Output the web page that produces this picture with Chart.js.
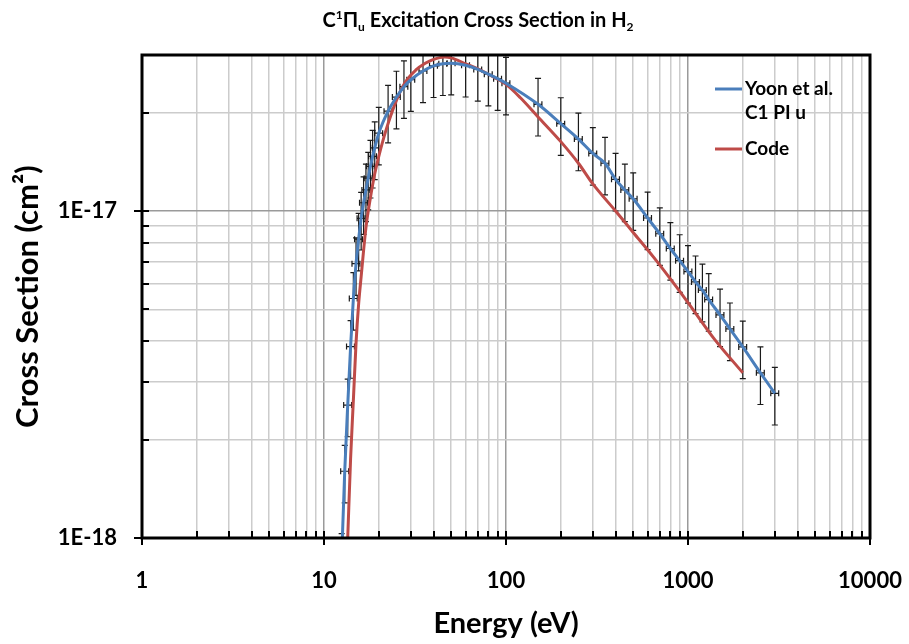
<!DOCTYPE html>
<html>
<head>
<meta charset="utf-8">
<title>C1Pi_u Excitation Cross Section in H2</title>
<script src="https://cdn.jsdelivr.net/npm/chart.js@4.4.1/dist/chart.umd.min.js"></script>
<style>
  html, body { margin: 0; padding: 0; background: #fff; }
</style>
</head>
<body>
<canvas id="xsChart" width="909" height="644"></canvas>
<script>
// Yoon et al. recommended cross section (energy in eV, sigma in cm^2)
const yoonEnergy = [12.5, 13, 13.5, 14, 14.5, 15, 15.5, 16, 16.5, 17, 17.5, 18, 18.5, 19, 20,
  22.5, 25, 27.5, 30, 35, 40, 45, 50, 60, 70, 80, 90, 100, 150, 200, 250, 300, 350, 400,
  450, 500, 600, 700, 800, 900, 1000, 1100, 1200, 1300, 1500, 1700, 2000, 2500, 3000];
const yoonSigma = [0.86e-18, 1.6e-18, 2.55e-18, 3.85e-18, 5.4e-18, 6.9e-18, 8.2e-18, 9.5e-18,
  1.06e-17, 1.16e-17, 1.26e-17, 1.37e-17, 1.47e-17, 1.56e-17, 1.73e-17,
  2.02e-17, 2.23e-17, 2.40e-17, 2.52e-17, 2.68e-17, 2.78e-17, 2.82e-17, 2.83e-17, 2.79e-17,
  2.71e-17, 2.62e-17, 2.54e-17, 2.46e-17, 2.12e-17, 1.85e-17, 1.66e-17, 1.50e-17, 1.40e-17,
  1.25e-17, 1.16e-17, 1.09e-17, 9.52e-18, 8.52e-18, 7.68e-18, 7.05e-18, 6.53e-18, 6.07e-18,
  5.73e-18, 5.36e-18, 4.81e-18, 4.36e-18, 3.84e-18, 3.20e-18, 2.77e-18];
// error bars: +/-20% in sigma, +/-5% in energy
const yoonErrY = 0.2;
const yoonErrX = 0.05;

// model ("Code") curve
const codeEnergy = [13.3, 13.5, 14, 14.5, 15, 15.5, 16, 17, 18, 19, 20, 22, 25, 28, 32, 36, 40,
  46, 50, 60, 70, 80, 100, 120, 150, 200, 250, 300, 400, 500, 650, 800, 1000, 1400, 2000];
const codeSigma = [0.80e-18, 1.0e-18, 1.75e-18, 2.64e-18, 3.95e-18, 5.2e-18, 6.3e-18, 8.9e-18,
  1.10e-17, 1.30e-17, 1.47e-17, 1.78e-17, 2.18e-17, 2.48e-17, 2.70e-17, 2.83e-17, 2.91e-17,
  2.96e-17, 2.94e-17, 2.82e-17, 2.72e-17, 2.62e-17, 2.44e-17, 2.22e-17, 1.94e-17, 1.63e-17,
  1.40e-17, 1.21e-17, 1.00e-17, 8.6e-18, 7.2e-18, 6.2e-18, 5.25e-18, 4.05e-18, 3.2e-18];

const xMajor = [1, 10, 100, 1000, 10000];
const xLabels = ['1', '10', '100', '1000', '10000'];
const yMajor = [1e-18, 1e-17];
const yLabels = ['1E-18', '1E-17'];
const minorSteps = [2, 3, 4, 5, 6, 7, 8, 9];
const yMin = 1e-18, yMax = 3e-17;

const BLUE = '#4A7EBB';
const RED = '#BE4B48';
const FONT = 'Lato';

function logTicks(majors, max) {
  const out = [];
  majors.forEach(m => {
    out.push({ value: m, major: true });
    minorSteps.forEach(k => { if (m * k <= max * 1.0001) out.push({ value: m * k, major: false }); });
  });
  return out.filter(t => t.value <= max * 1.0001);
}

function labelFor(v, majors, labels) {
  const i = majors.findIndex(m => Math.abs(Math.log10(v / m)) < 1e-6);
  return i < 0 ? '' : labels[i];
}

const errorBars = {
  id: 'errorBars',
  beforeDatasetsDraw(chart) {
    const { ctx, chartArea: a, scales: { x, y } } = chart;
    ctx.save();
    ctx.beginPath();
    ctx.rect(a.left, a.top, a.right - a.left, a.bottom - a.top);
    ctx.clip();
    ctx.strokeStyle = '#1a1a1a';
    ctx.lineWidth = 1.2;
    yoonEnergy.forEach((e, i) => {
      const s = yoonSigma[i];
      const px = x.getPixelForValue(e), py = y.getPixelForValue(s);
      const yt = y.getPixelForValue(s * (1 + yoonErrY));
      const yb = y.getPixelForValue(s * (1 - yoonErrY));
      const xl = x.getPixelForValue(e * (1 - yoonErrX));
      const xr = x.getPixelForValue(e * (1 + yoonErrX));
      ctx.beginPath();
      ctx.moveTo(px, yt); ctx.lineTo(px, yb);
      ctx.moveTo(px - 3, yt); ctx.lineTo(px + 3, yt);
      ctx.moveTo(px - 3, yb); ctx.lineTo(px + 3, yb);
      ctx.moveTo(xl, py); ctx.lineTo(xr, py);
      ctx.moveTo(xl, py - 3); ctx.lineTo(xl, py + 3);
      ctx.moveTo(xr, py - 3); ctx.lineTo(xr, py + 3);
      ctx.stroke();
    });
    ctx.restore();
  }
};

const frameAndText = {
  id: 'frameAndText',
  afterDraw(chart) {
    const { ctx, chartArea: a, scales: { x, y } } = chart;
    ctx.save();
    // tick marks: majors cross the axis, minors point inside
    ctx.strokeStyle = '#000';
    ctx.lineWidth = 2;
    ctx.beginPath();
    x.ticks.forEach(t => {
      const px = Math.round(x.getPixelForValue(t.value));
      ctx.moveTo(px, a.bottom + (t.major ? 7 : 0));
      ctx.lineTo(px, a.bottom - 7);
    });
    y.ticks.forEach(t => {
      const py = Math.round(y.getPixelForValue(t.value));
      ctx.moveTo(a.left - (t.major ? 8 : 0), py);
      ctx.lineTo(a.left + 7, py);
    });
    ctx.stroke();
    // plot frame
    ctx.lineWidth = 3;
    ctx.strokeRect(a.left, a.top, a.right - a.left, a.bottom - a.top);

    // legend (inside plot, top right)
    ctx.font = 'bold 19px ' + FONT;
    ctx.textBaseline = 'middle';
    ctx.textAlign = 'left';
    ctx.fillStyle = '#000';
    ctx.lineWidth = 3;
    ctx.strokeStyle = BLUE;
    ctx.beginPath(); ctx.moveTo(715, 89); ctx.lineTo(742, 89); ctx.stroke();
    ctx.fillText('Yoon et al.', 745, 89);
    ctx.fillText('C1 PI u', 745, 113);
    ctx.strokeStyle = RED;
    ctx.beginPath(); ctx.moveTo(715, 149); ctx.lineTo(742, 149); ctx.stroke();
    ctx.fillText('Code', 745, 149);

    // title with super/subscripts
    const big = 'bold 20px ' + FONT, small = 'bold 12px ' + FONT;
    const parts = [
      ['C', big, 0], ['1', small, -8], ['\u03A0', big, 0], ['u', small, 4],
      [' Excitation Cross Section in H', big, 0], ['2', small, 4]
    ];
    let w = 0;
    parts.forEach(p => { ctx.font = p[1]; w += ctx.measureText(p[0]).width; });
    let tx = 478 - w / 2;
    const base = 27;
    ctx.textBaseline = 'alphabetic';
    parts.forEach(p => {
      ctx.font = p[1];
      ctx.fillText(p[0], tx, base + p[2]);
      tx += ctx.measureText(p[0]).width;
    });
    ctx.restore();
  }
};

const gridColor = ctx => (ctx.tick && ctx.tick.major) ? '#9a9a9a' : '#cccccc';

new Chart(document.getElementById('xsChart'), {
  type: 'line',
  data: {
    datasets: [
      {
        label: 'Yoon et al. C1 PI u',
        data: yoonEnergy.map((e, i) => ({ x: e, y: yoonSigma[i] })),
        borderColor: BLUE,
        borderWidth: 3,
        pointRadius: 0,
        cubicInterpolationMode: 'monotone',
        fill: false,
        order: 1
      },
      {
        label: 'Code',
        data: codeEnergy.map((e, i) => ({ x: e, y: codeSigma[i] })),
        borderColor: RED,
        borderWidth: 3,
        pointRadius: 0,
        cubicInterpolationMode: 'monotone',
        fill: false,
        order: 2
      }
    ]
  },
  options: {
    responsive: false,
    animation: false,
    layout: { padding: { top: 55, right: 39, bottom: 0, left: 0 } },
    plugins: { legend: { display: false }, tooltip: { enabled: false }, title: { display: false } },
    scales: {
      x: {
        type: 'logarithmic',
        min: 1, max: 10000,
        afterBuildTicks: s => { s.ticks = logTicks(xMajor.slice(0, 4), 10000).concat([{ value: 10000, major: true }]); },
        afterFit: s => { s.height = 106; s.paddingLeft = 0; s.paddingRight = 0; },
        grid: { color: gridColor, lineWidth: 1.5, drawTicks: false },
        border: { display: false },
        ticks: {
          autoSkip: false, maxRotation: 0, padding: 30, color: '#000',
          font: { family: FONT, size: 22, weight: 'bold' },
          callback: v => labelFor(v, xMajor, xLabels)
        },
        title: {
          display: true, text: 'Energy (eV)', color: '#000',
          font: { family: FONT, size: 29, weight: 'bold' },
          padding: { top: 0, bottom: 3 }
        }
      },
      y: {
        type: 'logarithmic',
        min: yMin, max: yMax,
        afterBuildTicks: s => { s.ticks = logTicks(yMajor, yMax); },
        afterFit: s => { s.width = 142; s.paddingTop = 0; s.paddingBottom = 0; },
        grid: { color: gridColor, lineWidth: 1.5, drawTicks: false },
        border: { display: false },
        ticks: {
          autoSkip: false, padding: 25, color: '#000',
          font: { family: FONT, size: 22, weight: 'bold' },
          callback: v => labelFor(v, yMajor, yLabels)
        },
        title: {
          display: true, text: 'Cross Section (cm\u00B2)', color: '#000',
          font: { family: FONT, size: 31, weight: 'bold' },
          padding: { top: 9, bottom: 0 }
        }
      }
    }
  },
  plugins: [errorBars, frameAndText]
});
</script>
</body>
</html>
